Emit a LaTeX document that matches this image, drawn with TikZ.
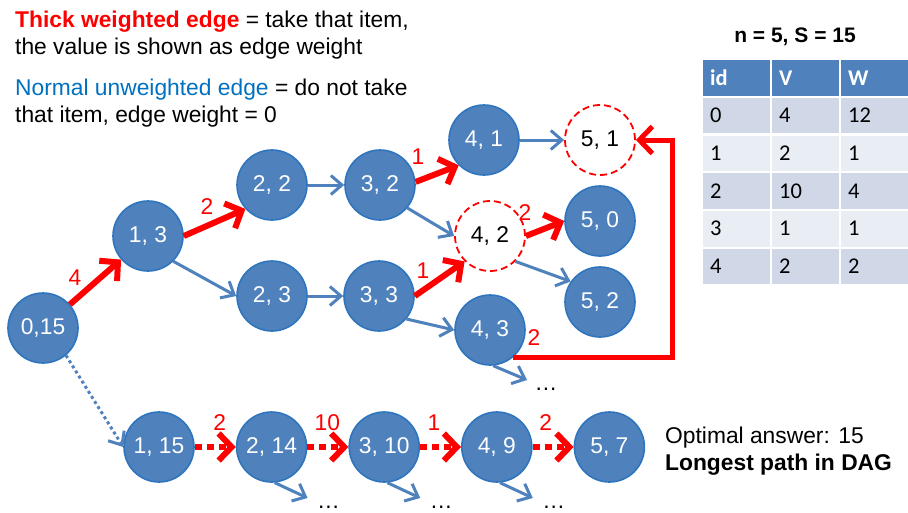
\documentclass[tikz,border=0pt]{standalone}
\usepackage{fontspec}
\setmainfont{Liberation Sans}
\newfontfamily\tablefont{Carlito}
\usetikzlibrary{positioning, arrows.meta}
\definecolor{nodeblue}{RGB}{79, 129, 189}
\definecolor{rimblue}{RGB}{46, 117, 190}
\definecolor{edgeblue}{RGB}{79, 129, 189}
\definecolor{legendblue}{RGB}{0, 112, 192}
\definecolor{rowdark}{RGB}{208, 216, 232}
\definecolor{rowlight}{RGB}{233, 237, 244}

\begin{document}
\begin{tikzpicture}[x=1pt, y=-1pt, node distance=41pt,
    every node/.style={align=left, font=\fontsize{22.8}{27}\selectfont},
    state/.style={circle, draw=rimblue, line width=1.6pt, fill=nodeblue, text=white, minimum size=70pt, inner sep=0pt},
    best/.style={circle, draw=red, dash pattern=on 7pt off 4pt, line width=1.8pt, fill=white, minimum size=70pt, inner sep=0pt},
    skip/.style={-{Straight Barb[length=11pt, width=19pt]}, line width=3pt, edgeblue},
    take/.style={-{Straight Barb[length=13pt, width=27pt]}, line width=6pt, red},
    wgt/.style={text=red, inner sep=0pt},
    cell/.style={anchor=north west, minimum width=67pt, minimum height=35.5pt, text width=53pt, inner xsep=7pt, font=\tablefont\fontsize{22.5}{26}\selectfont}]
    \useasboundingbox (0,0) rectangle (908,512);

    % legend
    \node[anchor=north west, inner sep=0pt] (note1) at (15,10.5)
      {\textcolor{red}{\textbf{Thick weighted edge}} = take that item,\\
       the value is shown as edge weight};
    \node[anchor=north west, inner sep=0pt] (note2) at (15,78.5)
      {\textcolor{legendblue}{Normal unweighted edge} = do not take\\
       that item, edge weight = 0};

    % item table
    \node[anchor=base, font=\bfseries\fontsize{21}{25}\selectfont] (title) at (795,42) {n = 5, S = 15};
    \node[cell, fill=nodeblue, text=white, font=\tablefont\bfseries\fontsize{22.5}{26}\selectfont] (h1) at (703,60) {id};
    \node[cell, fill=nodeblue, text=white, font=\tablefont\bfseries\fontsize{22.5}{26}\selectfont] (h2) at (772,60) {V};
    \node[cell, fill=nodeblue, text=white, font=\tablefont\bfseries\fontsize{22.5}{26}\selectfont] (h3) at (841,60) {W};
    \foreach \a/\b/\c/\shade [count=\i] in {0/4/12/rowdark, 1/2/1/rowlight, 2/10/4/rowdark, 3/1/1/rowlight, 4/2/2/rowdark} {
      \node[cell, fill=\shade] (r\i a) at (703,60+37.7*\i) {\a};
      \node[cell, fill=\shade] (r\i b) at (772,60+37.7*\i) {\b};
      \node[cell, fill=\shade] (r\i c) at (841,60+37.7*\i) {\c};
    }

    % states (item, remaining capacity)
    \node[state] (s015) at (43,328) {0,15};
    \node[state] (s13) at (148,236) {1, 3};
    \node[state] (s22) at (272,185) {2, 2};
    \node[state] (s23) at (272,296) {2, 3};
    \node[state] (s32) at (380,185) {3, 2};
    \node[state] (s33) at (379,296) {3, 3};
    \node[state] (s41) at (484,140) {4, 1};
    \node[best] (s42) at (490,236) {4, 2};
    \node[state] (s43) at (490,330) {4, 3};
    \node[best] (s51) at (600,140) {5, 1};
    \node[state] (s50) at (600,221) {5, 0};
    \node[state] (s52) at (600,302) {5, 2};

    \node[state] (b115) at (159,447) {1, 15};
    \node[state, right=of b115] (b214) {2, 14};
    \node[state, right=of b214] (b310) {3, 10};
    \node[state, right=of b310] (b49) {4, 9};
    \node[state, right=of b49] (b57) {5, 7};

    \node[anchor=north west, inner sep=0pt] (answer) at (665,426.5)
      {Optimal answer: 15\\
       \textbf{Longest path in DAG}};

    % dots for the cut branches
    \node[anchor=base, inner sep=0pt] (d43) at (546,390) {\ldots};
    \node[anchor=base, inner sep=0pt] (d214) at ([shift={(57,61)}]b214.center) {\ldots};
    \node[anchor=base, inner sep=0pt] (d310) at ([shift={(57,61)}]b310.center) {\ldots};
    \node[anchor=base, inner sep=0pt] (d49) at ([shift={(57,61)}]b49.center) {\ldots};
    \coordinate (e43) at (527,380);
    \coordinate (e214) at ([shift={(36,51)}]b214.center);
    \coordinate (e310) at ([shift={(36,51)}]b310.center);
    \coordinate (e49) at ([shift={(36,51)}]b49.center);

    % edges
    \draw[take] (s015) -- (s13);
    \draw[take] (s13.east) -- (s22.-138);
    \draw[skip] (s13.-45) -- (s23.west);
    \draw[skip] (s22) -- (s32);
    \draw[skip] (s23) -- (s33);
    \draw[take] (s32.5) -- (s41.-135);
    \draw[skip] (s32.-40) -- (s42.west);
    \draw[take] (s33.east) -- (s42.-135);
    \draw[skip] (s33.-40) -- (s43.west);
    \draw[skip] (s41) -- (s51);
    \draw[take] (s42.east) -- (s50.west);
    \draw[skip] (s42.-45) -- (s52.145);
    \draw[take, line width=5pt] (s43.-50) -| ([xshift=37pt]s51.east) -- (s51.east);
    \draw[skip] (s43.-85) -- (e43);

    \draw[skip, dash pattern=on 3pt off 3pt] (s015.-50) -- (b115.west);
    \draw[take, dash pattern=on 7pt off 5pt] (b115) -- (b214);
    \draw[take, dash pattern=on 7pt off 5pt] (b214) -- (b310);
    \draw[take, dash pattern=on 7pt off 5pt] (b310) -- (b49);
    \draw[take, dash pattern=on 7pt off 5pt] (b49) -- (b57);
    \draw[skip] (b214.-85) -- (e214);
    \draw[skip] (b310.-85) -- (e310);
    \draw[skip] (b49.-85) -- (e49);

    % weights
    \node[wgt] (w1) at (75,278) {4};
    \node[wgt] (w2) at (207,207) {2};
    \node[wgt] (w3) at (418,157) {1};
    \node[wgt] (w4) at (423,271) {1};
    \node[wgt] (w5) at (525,213) {2};
    \node[wgt] (w6) at (534,338) {2};
    \node[wgt] (w7) at ([shift={(25,-24)}]b115.east) {2};
    \node[wgt] (w8) at ([shift={(20,-24)}]b214.east) {10};
    \node[wgt] (w9) at ([shift={(14,-24)}]b310.east) {1};
    \node[wgt] (w10) at ([shift={(13,-24)}]b49.east) {2};
  \end{tikzpicture}
\end{document}
